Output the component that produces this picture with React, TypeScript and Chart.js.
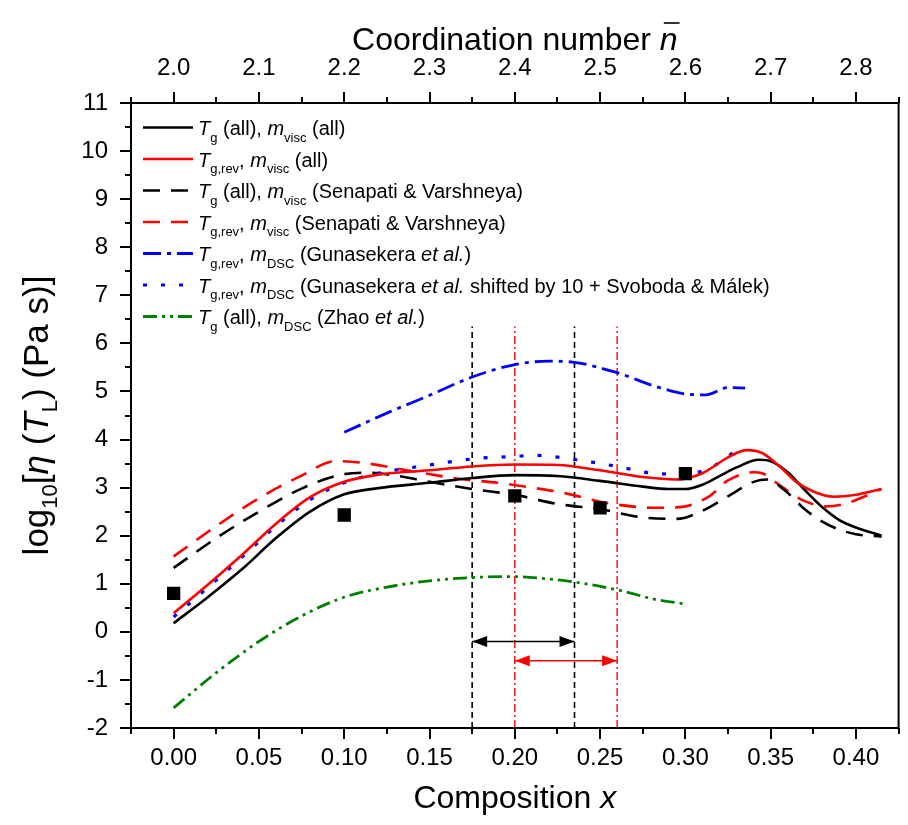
import React, { useEffect, useRef } from 'react';
import { Chart, registerables } from 'chart.js';

Chart.register(...registerables);

const FONT = '"Liberation Sans", Arial, Helvetica, sans-serif';

// ---- axes ----
const xTicks = [0, 0.05, 0.1, 0.15, 0.2, 0.25, 0.3, 0.35, 0.4];
const xMinorTicks = [-0.025, 0.025, 0.075, 0.125, 0.175, 0.225, 0.275, 0.325, 0.375, 0.425];
const nTicks = [2.0, 2.1, 2.2, 2.3, 2.4, 2.5, 2.6, 2.7, 2.8];
const nMinorTicks = [1.95, 2.05, 2.15, 2.25, 2.35, 2.45, 2.55, 2.65, 2.75, 2.85];
const yTicks = [-2, -1, 0, 1, 2, 3, 4, 5, 6, 7, 8, 9, 10, 11];
const yMinorTicks = [-1.5, -0.5, 0.5, 1.5, 2.5, 3.5, 4.5, 5.5, 6.5, 7.5, 8.5, 9.5, 10.5];

// ---- data ----
const squareX = [0, 0.1, 0.2, 0.25, 0.3];
const squareY = [0.8, 2.43, 2.83, 2.58, 3.29];

const blackSolidX = [0, 0.02, 0.04, 0.06, 0.08, 0.1, 0.12, 0.15, 0.175, 0.2, 0.225, 0.25, 0.275, 0.29, 0.3, 0.31, 0.32, 0.33, 0.343, 0.35, 0.36, 0.37, 0.38, 0.39, 0.4, 0.415];
const blackSolidY = [0.18, 0.72, 1.3, 1.95, 2.5, 2.86, 2.99, 3.1, 3.2, 3.26, 3.24, 3.14, 3.02, 2.97, 2.97, 3.06, 3.24, 3.42, 3.58, 3.55, 3.32, 2.95, 2.6, 2.33, 2.17, 2.0];

const redSolidX = [0, 0.02, 0.04, 0.06, 0.08, 0.1, 0.12, 0.15, 0.175, 0.2, 0.225, 0.25, 0.275, 0.295, 0.31, 0.325, 0.336, 0.345, 0.355, 0.365, 0.375, 0.387, 0.4, 0.415];
const redSolidY = [0.39, 0.98, 1.6, 2.25, 2.8, 3.12, 3.27, 3.36, 3.44, 3.48, 3.47, 3.36, 3.22, 3.17, 3.3, 3.63, 3.78, 3.72, 3.45, 3.12, 2.92, 2.81, 2.85, 2.97];

const blackDashX = [0, 0.025, 0.05, 0.075, 0.1, 0.115, 0.13, 0.15, 0.175, 0.2, 0.225, 0.25, 0.275, 0.295, 0.31, 0.325, 0.34, 0.348, 0.358, 0.37, 0.38, 0.39, 0.4, 0.415];
const blackDashY = [1.33, 1.95, 2.5, 2.98, 3.28, 3.31, 3.25, 3.12, 2.97, 2.85, 2.66, 2.55, 2.38, 2.35, 2.52, 2.82, 3.12, 3.17, 2.95, 2.55, 2.3, 2.13, 2.03, 1.98];

const redDashX = [0, 0.025, 0.05, 0.075, 0.095, 0.11, 0.14, 0.168, 0.19, 0.21, 0.23, 0.254, 0.283, 0.298, 0.314, 0.325, 0.34, 0.345, 0.356, 0.368, 0.383, 0.395, 0.415];
const redDashY = [1.57, 2.2, 2.78, 3.25, 3.55, 3.52, 3.34, 3.18, 3.1, 3.0, 2.88, 2.68, 2.58, 2.6, 2.82, 3.15, 3.32, 3.3, 3.03, 2.75, 2.61, 2.68, 2.97];

const blueDashDotX = [0.1, 0.125, 0.15, 0.175, 0.2, 0.22, 0.236, 0.26, 0.283, 0.302, 0.312, 0.325, 0.335];
const blueDashDotY = [4.15, 4.55, 4.92, 5.3, 5.56, 5.63, 5.6, 5.39, 5.1, 4.94, 4.93, 5.08, 5.07];

const blueDotX = [0, 0.02, 0.04, 0.06, 0.08, 0.1, 0.12, 0.15, 0.176, 0.2, 0.212, 0.236, 0.26, 0.283, 0.3, 0.315, 0.33];
const blueDotY = [0.31, 0.92, 1.55, 2.2, 2.75, 3.1, 3.3, 3.47, 3.6, 3.65, 3.67, 3.58, 3.44, 3.29, 3.28, 3.42, 3.78];

const greenX = [0, 0.025, 0.05, 0.075, 0.1, 0.125, 0.15, 0.175, 0.197, 0.22, 0.236, 0.26, 0.283, 0.3];
const greenY = [-1.58, -0.85, -0.2, 0.33, 0.72, 0.93, 1.06, 1.13, 1.15, 1.1, 1.03, 0.875, 0.67, 0.58];

const vBlackX = [0.175, 0.235];
const vRedX = [0.2, 0.26];
const vLineY = [-2, 6.35];
const arrowBlackX = [0.175, 0.235];
const arrowBlackY = -0.2;
const arrowRedX = [0.2, 0.26];
const arrowRedY = -0.6;

// ---- legend texts ----
type Seg = { t: string; i?: boolean; s?: boolean };
const legendTexts: Seg[][] = [
  [{ t: 'T', i: true }, { t: 'g', s: true }, { t: ' (all), ' }, { t: 'm', i: true }, { t: 'visc', s: true }, { t: ' (all)' }],
  [{ t: 'T', i: true }, { t: 'g,rev', s: true }, { t: ', ' }, { t: 'm', i: true }, { t: 'visc', s: true }, { t: ' (all)' }],
  [{ t: 'T', i: true }, { t: 'g', s: true }, { t: ' (all), ' }, { t: 'm', i: true }, { t: 'visc', s: true }, { t: ' (Senapati & Varshneya)' }],
  [{ t: 'T', i: true }, { t: 'g,rev', s: true }, { t: ', ' }, { t: 'm', i: true }, { t: 'visc', s: true }, { t: ' (Senapati & Varshneya)' }],
  [{ t: 'T', i: true }, { t: 'g,rev', s: true }, { t: ', ' }, { t: 'm', i: true }, { t: 'DSC', s: true }, { t: ' (Gunasekera ' }, { t: 'et al.', i: true }, { t: ')' }],
  [{ t: 'T', i: true }, { t: 'g,rev', s: true }, { t: ', ' }, { t: 'm', i: true }, { t: 'DSC', s: true }, { t: ' (Gunasekera ' }, { t: 'et al.', i: true }, { t: ' shifted by 10 + Svoboda & Málek)' }],
  [{ t: 'T', i: true }, { t: 'g', s: true }, { t: ' (all), ' }, { t: 'm', i: true }, { t: 'DSC', s: true }, { t: ' (Zhao ' }, { t: 'et al.', i: true }, { t: ')' }],
];
const xTitle: Seg[] = [{ t: 'Composition ' }, { t: 'x', i: true }];
const nTitle: Seg[] = [{ t: 'Coordination number ' }];
const nSymbol = 'n';
const yTitle: Seg[] = [
  { t: 'log' }, { t: '10', s: true }, { t: '[' }, { t: 'η', i: true }, { t: ' (' }, { t: 'T', i: true }, { t: 'L', s: true }, { t: ') (Pa s)]' },
];

// ---- styles ----
const BLACK = '#000000';
const RED = '#ff0000';
const BLUE = '#0000ff';
const GREEN = '#008000';

type LS = { color: string; dash: number[]; width: number; cap?: CanvasLineCap };
const styleBlackSolid: LS = { color: BLACK, dash: [], width: 2.6 };
const styleRedSolid: LS = { color: RED, dash: [], width: 2.6 };
const styleBlackDash: LS = { color: BLACK, dash: [17, 11], width: 2.6 };
const styleRedDash: LS = { color: RED, dash: [17, 11], width: 2.6 };
const styleBlueDashDot: LS = { color: BLUE, dash: [18, 6, 4, 6], width: 2.8 };
const styleBlueDot: LS = { color: BLUE, dash: [4, 14], width: 3.2 };
const styleGreen: LS = { color: GREEN, dash: [14, 5, 3, 5, 3, 5], width: 2.8 };
const legendStyles: LS[] = [styleBlackSolid, styleRedSolid, styleBlackDash, styleRedDash, styleBlueDashDot, styleBlueDot, styleGreen];

function pts(xs: number[], ys: number[]) {
  return xs.map((x, i) => ({ x, y: ys[i] }));
}

function lineDs(label: string, data: { x: number; y: number }[], st: LS, extra: any = {}) {
  return {
    label,
    data,
    showLine: true,
    borderColor: st.color,
    backgroundColor: st.color,
    borderWidth: st.width,
    borderDash: st.dash,
    borderCapStyle: st.cap || 'butt',
    pointRadius: 0,
    pointHoverRadius: 0,
    cubicInterpolationMode: 'monotone',
    fill: false,
    ...extra,
  };
}

function drawRich(ctx: CanvasRenderingContext2D, x: number, y: number, segs: Seg[], size: number, subSize: number, subDy: number) {
  let cx = x;
  for (const s of segs) {
    const fs = s.s ? subSize : size;
    ctx.font = `${s.i ? 'italic ' : ''}${fs}px ${FONT}`;
    ctx.fillText(s.t, cx, y + (s.s ? subDy : 0));
    cx += ctx.measureText(s.t).width;
  }
  return cx;
}

function measureRich(ctx: CanvasRenderingContext2D, segs: Seg[], size: number, subSize: number) {
  let w = 0;
  for (const s of segs) {
    const fs = s.s ? subSize : size;
    ctx.font = `${s.i ? 'italic ' : ''}${fs}px ${FONT}`;
    w += ctx.measureText(s.t).width;
  }
  return w;
}

const decorPlugin = {
  id: 'decor',
  afterDatasetsDraw(chart: any) {
    const ctx: CanvasRenderingContext2D = chart.ctx;
    const arrows = [
      { idx: chart.data.datasets.findIndex((d: any) => d.label === 'arrowBlack'), color: BLACK },
      { idx: chart.data.datasets.findIndex((d: any) => d.label === 'arrowRed'), color: RED },
    ];
    ctx.save();
    for (const a of arrows) {
      const meta = chart.getDatasetMeta(a.idx);
      const p0 = meta.data[0];
      const p1 = meta.data[1];
      const L = 15;
      const W = 5.5;
      ctx.fillStyle = a.color;
      ctx.beginPath();
      ctx.moveTo(p0.x, p0.y);
      ctx.lineTo(p0.x + L, p0.y - W);
      ctx.lineTo(p0.x + L, p0.y + W);
      ctx.closePath();
      ctx.fill();
      ctx.beginPath();
      ctx.moveTo(p1.x, p1.y);
      ctx.lineTo(p1.x - L, p1.y - W);
      ctx.lineTo(p1.x - L, p1.y + W);
      ctx.closePath();
      ctx.fill();
    }
    ctx.restore();
  },
  afterDraw(chart: any) {
    const ctx: CanvasRenderingContext2D = chart.ctx;
    const a = chart.chartArea;
    const xs = chart.scales.x;
    const xt = chart.scales.x2;
    const ys = chart.scales.y;
    ctx.save();
    ctx.strokeStyle = '#000';
    ctx.fillStyle = '#000';
    ctx.lineWidth = 2;
    ctx.setLineDash([]);
    ctx.strokeRect(a.left, a.top, a.right - a.left, a.bottom - a.top);

    const MAJ = 11;
    const MIN = 6;
    ctx.lineWidth = 2;
    ctx.beginPath();
    for (const v of xTicks) {
      const p = Math.round(xs.getPixelForValue(v));
      ctx.moveTo(p, a.bottom); ctx.lineTo(p, a.bottom + MAJ);
    }
    for (const v of xMinorTicks) {
      const p = Math.round(xs.getPixelForValue(v));
      ctx.moveTo(p, a.bottom); ctx.lineTo(p, a.bottom + MIN);
    }
    for (const v of nTicks) {
      const p = Math.round(xt.getPixelForValue(v));
      ctx.moveTo(p, a.top); ctx.lineTo(p, a.top - MAJ);
    }
    for (const v of nMinorTicks) {
      const p = Math.round(xt.getPixelForValue(v));
      ctx.moveTo(p, a.top); ctx.lineTo(p, a.top - MIN);
    }
    for (const v of yTicks) {
      const p = Math.round(ys.getPixelForValue(v));
      ctx.moveTo(a.left, p); ctx.lineTo(a.left - MAJ, p);
    }
    for (const v of yMinorTicks) {
      const p = Math.round(ys.getPixelForValue(v));
      ctx.moveTo(a.left, p); ctx.lineTo(a.left - MIN, p);
    }
    ctx.stroke();

    // titles
    ctx.textBaseline = 'alphabetic';
    ctx.textAlign = 'left';
    const TS = 32;
    const cxp = (a.left + a.right) / 2;
    // bottom
    const wB = measureRich(ctx, xTitle, TS, 20);
    drawRich(ctx, cxp - wB / 2, a.bottom + 80, xTitle, TS, 20, 0);
    // top
    const wT0 = measureRich(ctx, nTitle, TS, 20);
    ctx.font = `italic ${TS}px ${FONT}`;
    const wN = ctx.measureText(nSymbol).width;
    const startT = cxp - (wT0 + wN) / 2;
    const endT = drawRich(ctx, startT, a.top - 53, nTitle, TS, 20, 0);
    ctx.font = `italic ${TS}px ${FONT}`;
    ctx.fillText(nSymbol, endT, a.top - 53);
    ctx.lineWidth = 1.6;
    ctx.beginPath();
    ctx.moveTo(endT + 4, a.top - 53 - 27);
    ctx.lineTo(endT + wN + 2, a.top - 53 - 27);
    ctx.stroke();
    // left (rotated)
    const YS = 35;
    ctx.save();
    ctx.translate(48, (a.top + a.bottom) / 2);
    ctx.rotate(-Math.PI / 2);
    const wL = measureRich(ctx, yTitle, YS, 22);
    drawRich(ctx, -wL / 2, 0, yTitle, YS, 22, 9);
    ctx.restore();

    // legend
    const LX0 = a.left + 12;
    const LX1 = a.left + 62;
    const TX = a.left + 67;
    for (let i = 0; i < legendTexts.length; i++) {
      const ly = a.top + 24.5 + i * 31.5;
      const st = legendStyles[i];
      ctx.strokeStyle = st.color;
      ctx.lineWidth = st.width;
      ctx.setLineDash(st.dash);
      ctx.lineCap = st.cap || 'butt';
      ctx.beginPath();
      ctx.moveTo(LX0, ly);
      ctx.lineTo(LX1, ly);
      ctx.stroke();
      ctx.setLineDash([]);
      ctx.fillStyle = '#000';
      drawRich(ctx, TX, ly + 7.7, legendTexts[i], 20, 13, 6.5);
    }
    ctx.restore();
  },
};

export default function App() {
  const ref = useRef<HTMLCanvasElement>(null);
  useEffect(() => {
    const canvas = ref.current;
    if (!canvas) return;
    const datasets: any[] = [
      {
        label: 'squares',
        data: pts(squareX, squareY),
        showLine: false,
        pointStyle: 'rect',
        pointRadius: 9.4,
        pointHoverRadius: 9.4,
        pointBackgroundColor: BLACK,
        pointBorderWidth: 0,
        borderColor: BLACK,
        backgroundColor: BLACK,
      },
      lineDs('Tg all, mvisc all', pts(redSolidX, redSolidY), styleRedSolid),
      lineDs('Tg,rev, mvisc all', pts(blackSolidX, blackSolidY), styleBlackSolid),
      lineDs('Tg,rev, mDSC shifted', pts(blueDotX, blueDotY), styleBlueDot),
      lineDs('Tg all, mvisc S&V', pts(blackDashX, blackDashY), styleBlackDash),
      lineDs('Tg,rev, mvisc S&V', pts(redDashX, redDashY), styleRedDash),
      lineDs('Tg,rev, mDSC Gunasekera', pts(blueDashDotX, blueDashDotY), styleBlueDashDot),
      lineDs('Tg all, mDSC Zhao', pts(greenX, greenY), styleGreen),
      lineDs('arrowBlack', pts(arrowBlackX, [arrowBlackY, arrowBlackY]), { color: BLACK, dash: [], width: 1.6 }, { cubicInterpolationMode: 'default', tension: 0 }),
      lineDs('arrowRed', pts(arrowRedX, [arrowRedY, arrowRedY]), { color: RED, dash: [], width: 1.6 }, { cubicInterpolationMode: 'default', tension: 0 }),
      lineDs('vb1', pts([vBlackX[0], vBlackX[0]], vLineY), { color: BLACK, dash: [6, 4], width: 1.6 }, { tension: 0, cubicInterpolationMode: 'default' }),
      lineDs('vb2', pts([vBlackX[1], vBlackX[1]], vLineY), { color: BLACK, dash: [6, 4], width: 1.6 }, { tension: 0, cubicInterpolationMode: 'default' }),
      lineDs('vr1', pts([vRedX[0], vRedX[0]], vLineY), { color: RED, dash: [8, 3, 2, 3], width: 1.4 }, { tension: 0, cubicInterpolationMode: 'default' }),
      lineDs('vr2', pts([vRedX[1], vRedX[1]], vLineY), { color: RED, dash: [8, 3, 2, 3], width: 1.4 }, { tension: 0, cubicInterpolationMode: 'default' }),
    ];
    const tickFont = { family: FONT, size: 24 };
    const chart = new Chart(canvas, {
      type: 'scatter',
      data: { datasets },
      options: {
        responsive: false,
        animation: false,
        events: [],
        layout: { padding: { left: 0, right: 2, top: 0, bottom: 0 } },
        plugins: { legend: { display: false }, tooltip: { enabled: false }, title: { display: false } },
        scales: {
          x: {
            type: 'linear',
            position: 'bottom',
            min: -0.025,
            max: 0.425,
            afterBuildTicks: (s: any) => { s.ticks = xTicks.map((v) => ({ value: v })); },
            afterFit: (s: any) => { s.height = 97; },
            grid: { display: false, drawTicks: false },
            border: { display: false },
            ticks: { font: tickFont, color: '#000', padding: 16, maxRotation: 0, autoSkip: false, callback: (v: any) => Number(v).toFixed(2) },
          },
          x2: {
            type: 'linear',
            axis: 'x',
            position: 'top',
            min: 1.95,
            max: 2.85,
            afterBuildTicks: (s: any) => { s.ticks = nTicks.map((v) => ({ value: v })); },
            afterFit: (s: any) => { s.height = 103; },
            grid: { display: false, drawTicks: false },
            border: { display: false },
            ticks: { font: tickFont, color: '#000', padding: 20, maxRotation: 0, autoSkip: false, callback: (v: any) => Number(v).toFixed(1) },
          },
          y: {
            type: 'linear',
            position: 'left',
            min: -2,
            max: 11,
            afterBuildTicks: (s: any) => { s.ticks = yTicks.map((v) => ({ value: v })); },
            afterFit: (s: any) => { s.width = 131; },
            grid: { display: false, drawTicks: false },
            border: { display: false },
            ticks: { font: tickFont, color: '#000', padding: 23, autoSkip: false, callback: (v: any) => String(v) },
          },
        },
      } as any,
      plugins: [decorPlugin],
    });
    return () => chart.destroy();
  }, []);
  return (
    <div style={{ position: 'absolute', left: 0, top: 0, width: 908, height: 825, background: '#fff' }}>
      <canvas ref={ref} width={908} height={825} style={{ display: 'block' }} />
    </div>
  );
}
